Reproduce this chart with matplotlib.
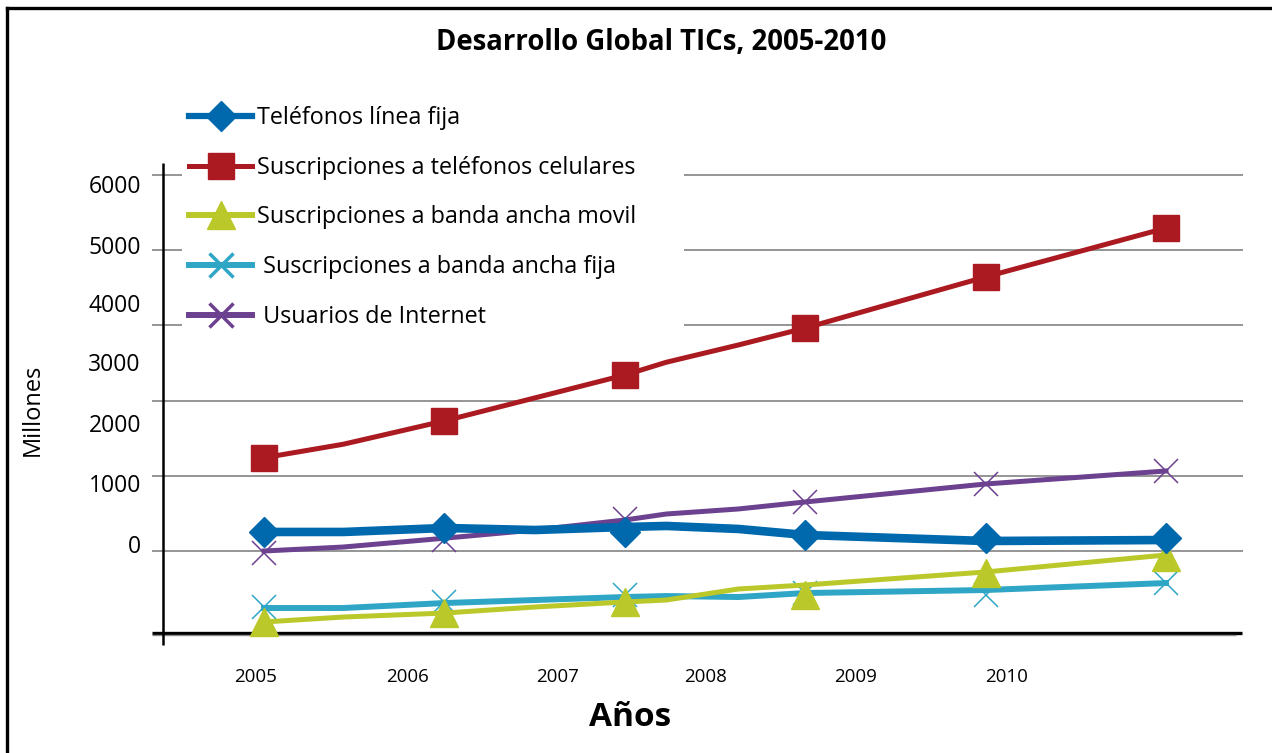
import numpy as np
import matplotlib
matplotlib.use("Agg")
import matplotlib.pyplot as plt
from matplotlib.lines import Line2D

plt.rcParams['font.family'] = ['Open Sans', 'DejaVu Sans']

# ---------------------------------------------------------------
# Data (in "millones")
# ---------------------------------------------------------------
years = ['2005', '2006', '2007', '2008', '2009', '2010']

# line vertices (x in year-index units)
line_x = [0, 0.44, 1, 1.5, 2, 2.23, 2.63, 3, 4, 5]
fija_line = [253, 253, 306, 279, 319, 333, 293, 213, 133, 146]
celu_line = [1240, 1420, 1730, 2035, 2340, 2510, 2740, 2965, 3645, 4295]
movil_line = [-944, -878, -825, -745, -678, -652, -505, -452, -279, -53]
bafija_line = [-758, -758, -692, -652, -612, -599, -612, -559, -519, -426]
inet_line = [0, 53, 170, 279, 412, 492, 559, 652, 891, 1064]

# marker values, one per year
fija_pts = [253, 306, 253, 213, 173, 173]
celu_pts = [1240, 1730, 2340, 2965, 3645, 4295]
movil_pts = [-944, -825, -678, -585, -293, -80]
bafija_pts = [-745, -678, -585, -559, -585, -426]
inet_pts = [-27, 146, 426, 652, 891, 1064]

grid_vals = [0, 1000, 2000, 3000, 4000, 5000]
ytick_labels = ['6000', '5000', '4000', '3000', '2000', '1000', '0']
ytick_pos = [4880, 4069, 3298, 2513, 1702, 904, 93]
xtick_pos = [-0.044, 0.793, 1.63, 2.445, 3.277, 4.118]

labels = ['Teléfonos línea fija',
          'Suscripciones a teléfonos celulares',
          'Suscripciones a banda ancha movil',
          ' Suscripciones a banda ancha fija',
          ' Usuarios de Internet']

c_fija = '#0068ad'
c_celu = '#ab1a20'
c_movil = '#bac82a'
c_bafija = '#2fa6c6'
c_inet = '#6c4190'

# ---------------------------------------------------------------
fig = plt.figure(figsize=(12.72, 7.53), dpi=100)
ax = fig.add_axes([152/1272, 1-660/753, (1250-152)/1272, 510/753])
ax.set_xlim(-0.6208, 5.4656)
ax.set_ylim(-1449.5, 5332.5)
for s in ax.spines.values():
    s.set_visible(False)

# grid + axes lines
ax.hlines(grid_vals, -0.6208, 5.427, color='#8c8c8c', lw=1.3, zorder=1)
ax.hlines(-1090, -0.6208, 5.421, color='black', lw=2.4, zorder=2)
ax.hlines(-1122, -0.6208, 5.39, color='#8c8c8c', lw=1.0, zorder=2)
ax.vlines(-0.56, -1250, 5160, color='black', lw=1.8, zorder=2)

x = np.arange(len(years))

# series (lines and markers)
ax.plot(line_x, bafija_line, color=c_bafija, lw=4.3, zorder=3)
ax.plot(x, bafija_pts, ls='none', marker='x', ms=17, mew=1.1, color=c_bafija, zorder=3)
ax.plot(line_x, movil_line, color=c_movil, lw=3.6, zorder=4)
ax.plot(x, movil_pts, ls='none', marker='^', ms=20, color=c_movil, zorder=4)
ax.plot(line_x, inet_line, color=c_inet, lw=3.6, zorder=5)
ax.plot(x, inet_pts, ls='none', marker='x', ms=17, mew=1.1, color=c_inet, zorder=5)
ax.plot(line_x, fija_line, color=c_fija, lw=6.2, zorder=6)
ax.plot(x, fija_pts, ls='none', marker='D', ms=15, color=c_fija, zorder=6)
ax.plot(line_x, celu_line, color=c_celu, lw=3.6, zorder=7)
ax.plot(x, celu_pts, ls='none', marker='s', ms=19, color=c_celu, zorder=7)

# ticks
ax.set_yticks(ytick_pos, ytick_labels, fontsize=16.5)
ax.set_xticks(xtick_pos, years, fontsize=13.5)
ax.tick_params(axis='y', length=0, pad=8)
ax.tick_params(axis='x', length=0, pad=6)

# legend
handles = [
    Line2D([], [], color=c_fija, lw=4.5, marker='D', ms=15),
    Line2D([], [], color=c_celu, lw=3.6, marker='s', ms=19),
    Line2D([], [], color=c_movil, lw=4.3, marker='^', ms=20),
    Line2D([], [], color=c_bafija, lw=4.3, marker='x', ms=17, mew=2.5),
    Line2D([], [], color=c_inet, lw=4.3, marker='x', ms=17, mew=2.5),
]
top = 1 - 99/753
leg = ax.legend(handles, labels, loc='upper left', mode='expand',
                bbox_to_anchor=(182/1272, top - 0.01, (684-182)/1272, 0.01),
                bbox_transform=fig.transFigure, fontsize=16.8,
                handlelength=2.7, handletextpad=0.2, labelspacing=1.1,
                borderpad=0.3, borderaxespad=0, frameon=True, fancybox=False,
                numpoints=1)
leg.get_frame().set_facecolor('white')
leg.get_frame().set_edgecolor('none')
leg.get_frame().set_alpha(1)
leg.set_zorder(10)

# texts
fig.text(661/1272, 1-42/753, 'Desarrollo Global TICs, 2005-2010',
         ha='center', va='center', fontsize=19.8, fontweight='bold')
fig.text(33/1272, 1-410/753, 'Millones', rotation=90,
         ha='center', va='center', fontsize=17)
fig.text(630/1272, 1-718/753, 'Años', ha='center', va='center',
         fontsize=24, fontweight='bold')

# outer frame (top and left only)
fig.add_artist(Line2D([7/1272, 1], [1-8/753, 1-8/753], color='black', lw=2.4,
                      transform=fig.transFigure))
fig.add_artist(Line2D([7/1272, 7/1272], [0, 1-8/753], color='black', lw=2.4,
                      transform=fig.transFigure))

fig.savefig('out.png', dpi=100)
